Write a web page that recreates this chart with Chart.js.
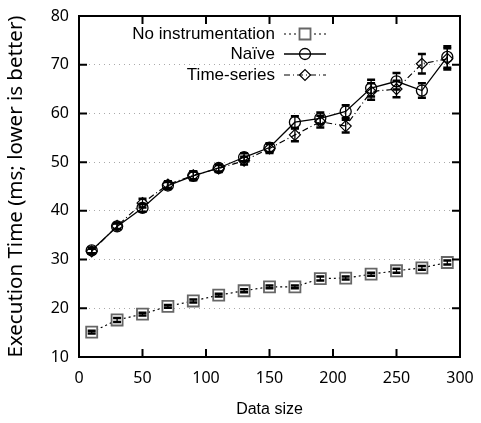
<!DOCTYPE html>
<html><head><meta charset="utf-8">
<script src="https://cdn.jsdelivr.net/npm/chart.js@4"></script>
<style>html,body{margin:0;padding:0;background:#fff}#wrap{width:481px;height:423px}</style>
</head><body><div id="wrap"><canvas id="c" width="481" height="423"></canvas></div>
<script>
const sizes = [10,30,50,70,90,110,130,150,170,190,210,230,250,270,290];
const noInstr = [15.1,17.6,18.8,20.4,21.5,22.7,23.6,24.4,24.4,26.1,26.2,27.0,27.7,28.3,29.4];
const noInstrErr = [0.3,0.4,0.3,0.3,0.3,0.3,0.3,0.3,0.3,0.4,0.3,0.3,0.4,0.4,0.4];
const naive = [31.9,36.8,40.6,45.2,47.2,48.8,51.0,53.0,58.2,59.0,60.4,65.2,66.6,64.7,71.6];
const naiveErr = [0.6,0.6,0.8,0.7,0.9,0.7,0.8,0.9,1.2,1.2,1.3,1.7,1.7,1.5,2.2];
const timeSeries = [31.7,36.9,41.6,45.4,47.3,48.7,50.3,52.8,55.6,58.3,57.4,64.5,65.0,70.2,71.2];
const timeSeriesErr = [0.5,0.6,0.9,0.7,0.8,0.7,0.8,0.9,1.3,1.2,1.3,1.7,1.7,2.0,2.2];
const seriesNames = ['No instrumentation','Naïve','Time-series'];
const xTicks = [0,50,100,150,200,250,300];
const yTicks = [10,20,30,40,50,60,70,80];

const errs = [noInstrErr, naiveErr, timeSeriesErr];
const pts = v => sizes.map((x,i)=>({x:x,y:v[i]}));

const styles = [
  {pointStyle:'rect', radius:7.8, borderColor:'#666', bg:'#fff', dash:[2,3], lw:1.2, pbw:1.8},
  {pointStyle:'circle', radius:5.5, borderColor:'#000', bg:'rgba(0,0,0,0)', dash:[], lw:1.3, pbw:1.3},
  {pointStyle:'rectRot', radius:5.5, borderColor:'#000', bg:'rgba(0,0,0,0)', dash:[6,3,1,3], lw:1.2, pbw:1.2}
];
const datasets = [noInstr, naive, timeSeries].map((v,i)=>({
  label: seriesNames[i], data: pts(v),
  borderColor: '#000', borderWidth: styles[i].lw, borderDash: styles[i].dash,
  pointStyle: styles[i].pointStyle, pointRadius: styles[i].radius,
  pointBorderColor: styles[i].borderColor, pointBackgroundColor: styles[i].bg,
  pointBorderWidth: styles[i].pbw, fill:false, tension:0
}));

const framePlugin = {
  id:'frame',
  afterDatasetsDraw(chart){
    const ctx = chart.ctx, xs = chart.scales.x, ys = chart.scales.y, a = chart.chartArea;
    ctx.save();
    chart.data.datasets.forEach((ds,di)=>{
      ds.data.forEach((p,i)=>{
        const e = errs[di][i];
        const px = xs.getPixelForValue(p.x);
        const y1 = ys.getPixelForValue(p.y+e), y2 = ys.getPixelForValue(p.y-e);
        ctx.strokeStyle='#000'; ctx.setLineDash([]);
        ctx.lineWidth=1.3;
        ctx.beginPath(); ctx.moveTo(px,y1); ctx.lineTo(px,y2); ctx.stroke();
        ctx.lineWidth=2.5;
        ctx.beginPath(); ctx.moveTo(px-4,y1); ctx.lineTo(px+4,y1); ctx.moveTo(px-4,y2); ctx.lineTo(px+4,y2); ctx.stroke();
      });
    });
    ctx.lineWidth=2; ctx.strokeStyle='#000'; ctx.setLineDash([]);
    ctx.strokeRect(a.left, a.top, a.right-a.left, a.bottom-a.top);
    ctx.beginPath();
    xTicks.forEach(t=>{ const px=xs.getPixelForValue(t);
      ctx.moveTo(px,a.bottom); ctx.lineTo(px,a.bottom-8);
      ctx.moveTo(px,a.top); ctx.lineTo(px,a.top+8); });
    yTicks.forEach(t=>{ const py=ys.getPixelForValue(t);
      ctx.moveTo(a.left,py); ctx.lineTo(a.left+8,py);
      ctx.moveTo(a.right,py); ctx.lineTo(a.right-8,py); });
    ctx.stroke();
    ctx.font='17px "Liberation Sans", Arial, sans-serif';
    ctx.textAlign='right'; ctx.textBaseline='middle';
    const ly=[34,54,75];
    chart.data.datasets.forEach((ds,i)=>{
      ctx.fillStyle='#000';
      ctx.fillText(ds.label, 275, ly[i]);
      ctx.strokeStyle='#000'; ctx.lineWidth=styles[i].lw; ctx.setLineDash(styles[i].dash);
      ctx.beginPath(); ctx.moveTo(284,ly[i]); ctx.lineTo(326,ly[i]); ctx.stroke();
      ctx.setLineDash([]);
      ctx.fillStyle=styles[i].bg; ctx.strokeStyle=styles[i].borderColor; ctx.lineWidth=styles[i].pbw;
      Chart.helpers.drawPoint(ctx,{pointStyle:styles[i].pointStyle,radius:styles[i].radius,rotation:0,borderWidth:styles[i].pbw},305,ly[i]);
    });
    ctx.restore();
  }
};

new Chart(document.getElementById('c'),{
  type:'line',
  data:{datasets},
  options:{
    responsive:false, animation:false,
    layout:{padding:{top:16,right:21,left:0,bottom:0}},
    plugins:{legend:{display:false},tooltip:{enabled:false}},
    scales:{
      x:{type:'linear',min:0,max:300,
        afterFit(s){s.height=66; s.paddingLeft=0; s.paddingRight=0;},
        afterBuildTicks(s){s.ticks=xTicks.map(v=>({value:v}));},
        grid:{display:false,drawTicks:false},
        border:{display:false},
        ticks:{color:'#000',padding:12,font:{family:'"Noto Sans", sans-serif',size:16},maxRotation:0},
        title:{display:true,text:'Data size',color:'#000',font:{family:'"Liberation Sans", Arial, sans-serif',size:16},padding:{top:8}}
      },
      y:{type:'linear',min:10,max:80,
        afterFit(s){s.width=79; s.paddingTop=0; s.paddingBottom=0;},
        afterBuildTicks(s){s.ticks=yTicks.map(v=>({value:v}));},
        grid:{color:'#aaa',lineWidth:1,drawTicks:false},
        border:{display:false,dash:[1,4]},
        ticks:{color:'#000',padding:10,font:{family:'"Noto Sans", sans-serif',size:16}},
        title:{display:true,text:'Execution Time (ms; lower is better)',color:'#000',font:{family:'"Noto Sans", sans-serif',size:20.5},padding:{bottom:2}}
      }
    }
  },
  plugins:[framePlugin]
});
</script></body></html>
